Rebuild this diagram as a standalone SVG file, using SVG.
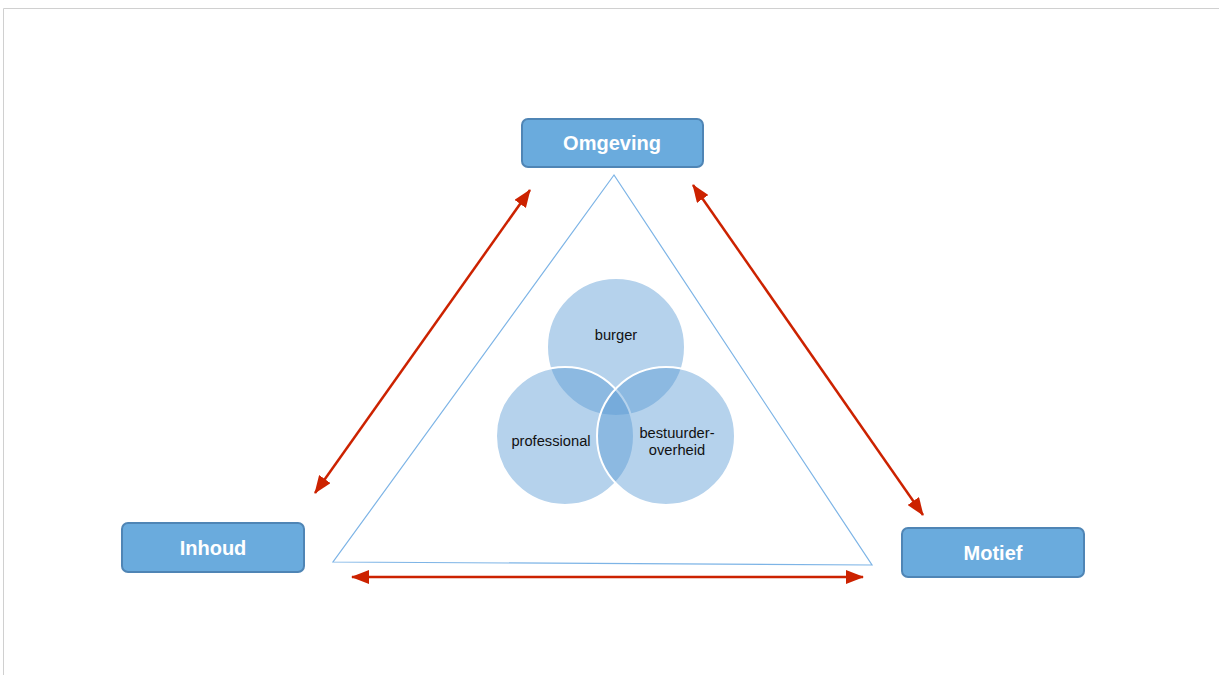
<svg xmlns="http://www.w3.org/2000/svg" width="1219" height="675" viewBox="0 0 1219 675">
<style>
.box{fill:#6AABDD;stroke:#4F85B5;stroke-width:2}
.lbl{font-family:"Liberation Sans",Arial,sans-serif;font-weight:bold;font-size:20px;fill:#fff;text-anchor:middle}
.circ{fill:#5B9BD5;fill-opacity:0.45;stroke:#fff;stroke-width:2}
.ctx{font-family:"Liberation Sans",Arial,sans-serif;font-size:14.7px;fill:#111;text-anchor:middle}
.arr{stroke:#CC2200;stroke-width:2.5;fill:none;marker-start:url(#ah);marker-end:url(#ah)}
</style>
<defs>
<marker id="ah" viewBox="0 0 18 14" refX="17" refY="7" markerWidth="18" markerHeight="14" markerUnits="userSpaceOnUse" orient="auto-start-reverse">
<path d="M0,0 L18,7 L0,14 Z" fill="#CC2200"/>
</marker>
</defs>
<rect x="0" y="0" width="1219" height="675" fill="#fff"/>
<path d="M3.5,675 V8.5 H1219" fill="none" stroke="#D0D0D0" stroke-width="1"/>
<g id="triangle">
<polygon points="614,175 333,562 872,565" fill="none" stroke="#7DB4E6" stroke-width="1.2"/>
</g>
<g id="venn">
<g id="burger"><circle class="circ" cx="616" cy="347" r="69"/></g>
<g id="professional"><circle class="circ" cx="565" cy="436" r="69"/></g>
<g id="bestuurder"><circle class="circ" cx="666" cy="436" r="69"/></g>
<text class="ctx" x="616" y="340">burger</text>
<text class="ctx" x="551" y="446">professional</text>
<text class="ctx" x="677" y="438">bestuurder-</text>
<text class="ctx" x="677" y="455">overheid</text>
</g>
<g id="connectors">
<line class="arr" x1="315" y1="493" x2="530" y2="190"/>
<line class="arr" x1="693" y1="185" x2="923" y2="515"/>
<line class="arr" x1="352" y1="577" x2="863" y2="577"/>
</g>
<g id="omgeving"><rect class="box" x="522" y="119" width="181" height="48" rx="6"/><text class="lbl" x="612" y="150">Omgeving</text></g>
<g id="inhoud"><rect class="box" x="122" y="523" width="182" height="49" rx="6"/><text class="lbl" x="213" y="555">Inhoud</text></g>
<g id="motief"><rect class="box" x="902" y="528" width="182" height="49" rx="6"/><text class="lbl" x="993" y="560">Motief</text></g>
</svg>
